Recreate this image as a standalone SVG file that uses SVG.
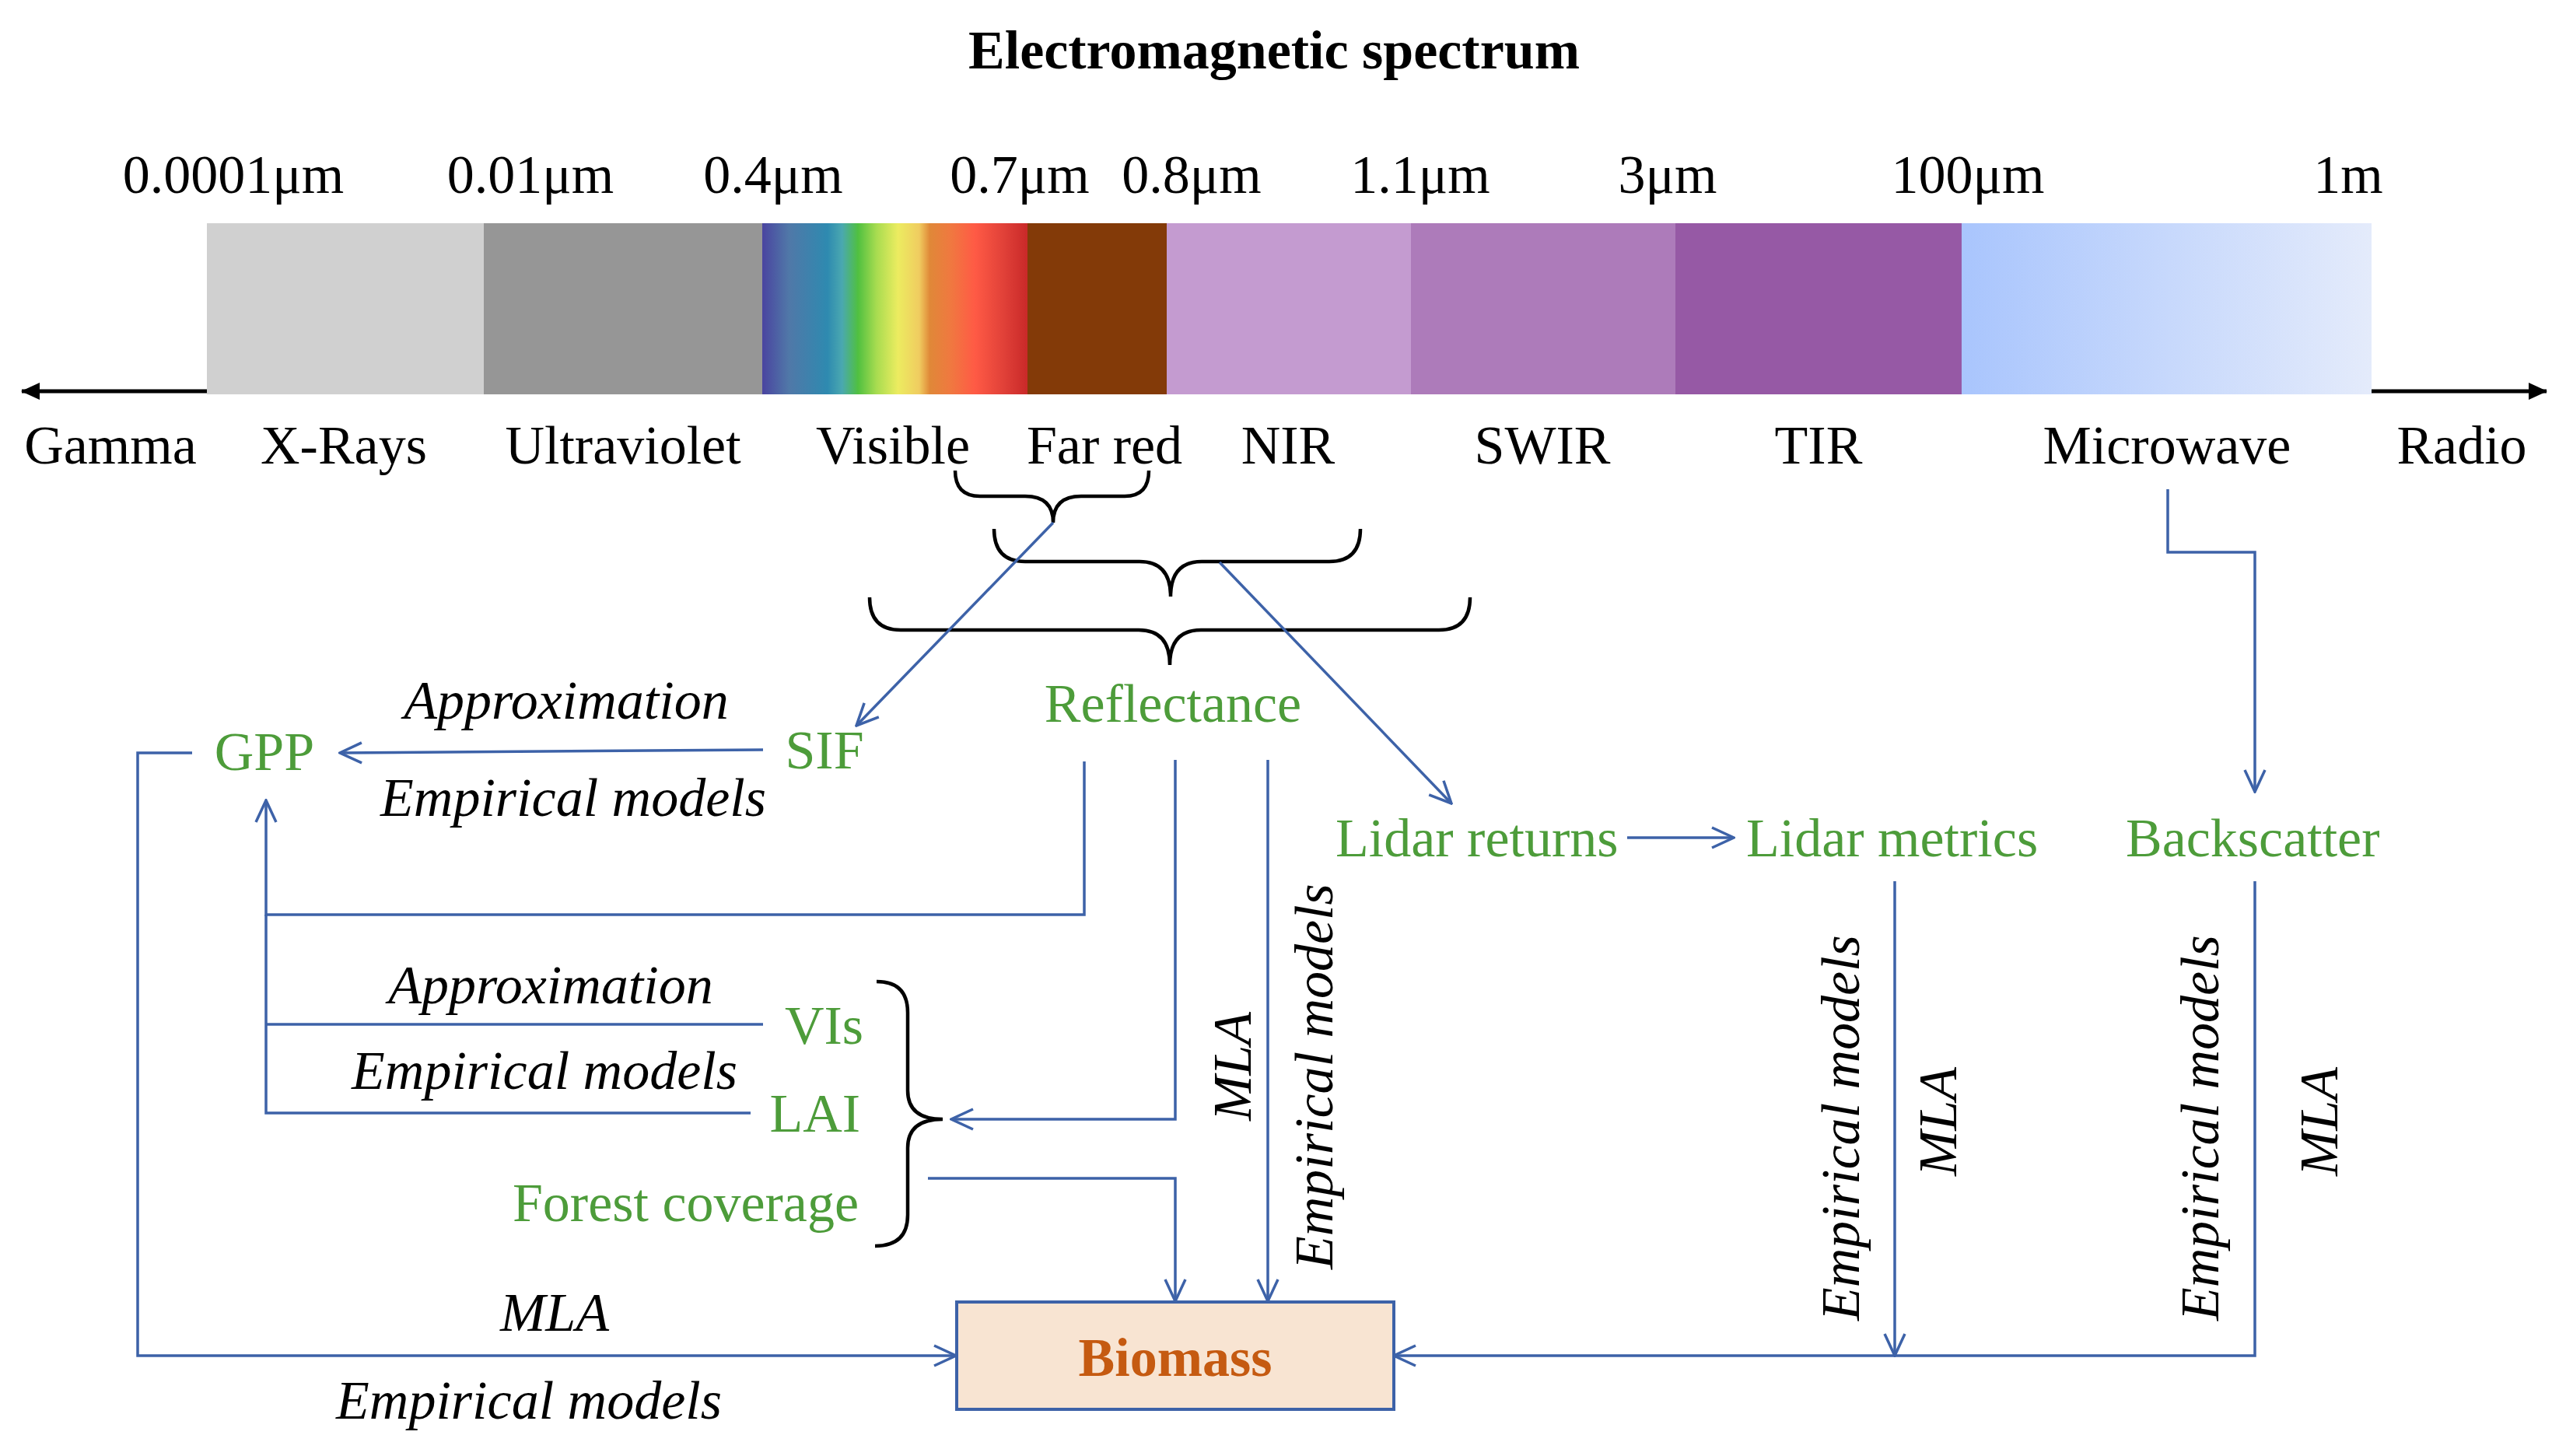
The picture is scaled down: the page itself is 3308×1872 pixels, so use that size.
<svg xmlns="http://www.w3.org/2000/svg" width="3308" height="1872" viewBox="0 0 3308 1872">
<style>
text{font-family:"Liberation Serif","Times New Roman",serif;font-size:70px;fill:#000}
.b{font-weight:bold}
.it{font-style:italic}
.g{fill:#4d9c3a}
.mid{text-anchor:middle}
.end{text-anchor:end}
.c{fill:none;stroke:#3d62a8;stroke-width:3.5}
.ca{fill:none;stroke:#3d62a8;stroke-width:3.5;marker-end:url(#ah)}
.br{fill:none;stroke:#000;stroke-width:4.5}
</style>
<defs>
<marker id="ah" viewBox="0 0 32 30" refX="30" refY="15" markerWidth="32" markerHeight="30" markerUnits="userSpaceOnUse" orient="auto">
<path d="M2,2 L30,15 L2,28" fill="none" stroke="#3d62a8" stroke-width="3.5"/>
</marker>
<marker id="bh" viewBox="0 0 24 22" refX="23" refY="11" markerWidth="24" markerHeight="22" markerUnits="userSpaceOnUse" orient="auto">
<path d="M0,0 L24,11 L0,22 Z" fill="#000"/>
</marker>
<linearGradient id="vis" x1="0" y1="0" x2="1" y2="0">
<stop offset="0" stop-color="#4a44a0"/>
<stop offset="0.10" stop-color="#5078a8"/>
<stop offset="0.245" stop-color="#2e8ab0"/>
<stop offset="0.30" stop-color="#4aa8b0"/>
<stop offset="0.36" stop-color="#50c040"/>
<stop offset="0.43" stop-color="#a8dc50"/>
<stop offset="0.51" stop-color="#ecec60"/>
<stop offset="0.59" stop-color="#f0cc60"/>
<stop offset="0.63" stop-color="#e08838"/>
<stop offset="0.71" stop-color="#f07840"/>
<stop offset="0.80" stop-color="#ff5a45"/>
<stop offset="0.91" stop-color="#e04038"/>
<stop offset="1" stop-color="#c82828"/>
</linearGradient>
<linearGradient id="mw" x1="0" y1="0" x2="1" y2="0">
<stop offset="0" stop-color="#a9c5fd"/>
<stop offset="1" stop-color="#e4ebfb"/>
</linearGradient>
</defs>

<g id="title"><text class="b mid" x="1638" y="88">Electromagnetic spectrum</text></g>

<g id="spectrum">
<rect x="266" y="287" width="357" height="220" fill="#d0d0d0"/>
<rect x="622" y="287" width="359" height="220" fill="#969696"/>
<rect x="980" y="287" width="342" height="220" fill="url(#vis)"/>
<rect x="1321" y="287" width="180" height="220" fill="#833a08"/>
<rect x="1500" y="287" width="315" height="220" fill="#c49bd0"/>
<rect x="1814" y="287" width="341" height="220" fill="#ad7bba"/>
<rect x="2154" y="287" width="369" height="220" fill="#9659a5"/>
<rect x="2522" y="287" width="527" height="220" fill="url(#mw)"/>
<line x1="266" y1="503" x2="28" y2="503" stroke="#000" stroke-width="5" marker-end="url(#bh)"/>
<line x1="3049" y1="503" x2="3274" y2="503" stroke="#000" stroke-width="5" marker-end="url(#bh)"/>
</g>

<g id="wavelengths">
<text class="mid" x="300" y="248">0.0001μm</text>
<text class="mid" x="682" y="248">0.01μm</text>
<text class="mid" x="994" y="248">0.4μm</text>
<text class="mid" x="1311" y="248">0.7μm</text>
<text class="mid" x="1532" y="248">0.8μm</text>
<text class="mid" x="1826" y="248">1.1μm</text>
<text class="mid" x="2144" y="248">3μm</text>
<text class="mid" x="2530" y="248">100μm</text>
<text class="mid" x="3019" y="248">1m</text>
</g>

<g id="bands">
<text class="mid" x="142" y="596">Gamma</text>
<text class="mid" x="442" y="596">X-Rays</text>
<text class="mid" x="801" y="596">Ultraviolet</text>
<text class="mid" x="1148" y="596">Visible</text>
<text class="mid" x="1420" y="596">Far red</text>
<text class="mid" x="1656" y="596">NIR</text>
<text class="mid" x="1983" y="596">SWIR</text>
<text class="mid" x="2338" y="596">TIR</text>
<text class="mid" x="2786" y="596">Microwave</text>
<text class="mid" x="3165" y="596">Radio</text>
</g>

<g id="braces">
<path class="br" d="M1228,605 Q1228,638 1260,638 L1318,638 Q1354,638 1354,672 Q1354,638 1390,638 L1446,638 Q1477,638 1477,605"/>
<path class="br" d="M1278,680 Q1278,722 1318,722 L1465,722 Q1505,722 1505,767 Q1505,722 1545,722 L1709,722 Q1749,722 1749,680"/>
<path class="br" d="M1118,768 Q1118,810 1158,810 L1464,810 Q1504,810 1504,855 Q1504,810 1544,810 L1850,810 Q1890,810 1890,768"/>
<path class="br" d="M1127,1262 Q1167,1262 1167,1302 L1167,1402 Q1167,1439 1212,1439 Q1167,1439 1167,1476 L1167,1562 Q1167,1602 1125,1602"/>
</g>

<g id="connectors">
<path class="ca" d="M1354,672 L1101,933"/>
<path class="ca" d="M1568,723 L1866,1033"/>
<path class="ca" d="M981,964 L437,968"/>
<path class="ca" d="M247,968 L177,968 L177,1743 L1229,1743"/>
<path class="ca" d="M1394,979 L1394,1176 L342,1176 L342,1029"/>
<path class="c" d="M342,1176 L342,1431 L965,1431"/>
<path class="c" d="M342,1317 L981,1317"/>
<path class="ca" d="M1511,977 L1511,1439 L1223,1439"/>
<path class="ca" d="M1630,977 L1630,1673"/>
<path class="ca" d="M1193,1515 L1511,1515 L1511,1673"/>
<path class="ca" d="M2092,1077 L2229,1077"/>
<path class="ca" d="M2436,1133 L2436,1743"/>
<path class="ca" d="M2899,1133 L2899,1743 L1792,1743"/>
<path class="ca" d="M2787,629 L2787,710 L2899,710 L2899,1018"/>
</g>

<g id="node-reflectance"><text class="g mid" x="1508" y="928">Reflectance</text></g>
<g id="node-sif"><text class="g mid" x="1060" y="988">SIF</text></g>
<g id="node-gpp"><text class="g mid" x="340" y="990">GPP</text></g>
<g id="node-lidar-returns"><text class="g" x="1717" y="1101">Lidar returns</text></g>
<g id="node-lidar-metrics"><text class="g" x="2245" y="1101">Lidar metrics</text></g>
<g id="node-backscatter"><text class="g" x="2733" y="1101">Backscatter</text></g>
<g id="node-vis"><text class="g end" x="1110" y="1342">VIs</text></g>
<g id="node-lai"><text class="g end" x="1106" y="1455">LAI</text></g>
<g id="node-forest"><text class="g end" x="1104" y="1570">Forest coverage</text></g>
<g id="node-biomass">
<rect x="1230" y="1674" width="562" height="138" fill="#f8e4d2" stroke="#3d62a8" stroke-width="4"/>
<text class="b mid" x="1511" y="1769" style="fill:#c55a11">Biomass</text>
</g>

<g id="labels">
<text class="it mid" x="728" y="924">Approximation</text>
<text class="it mid" x="737" y="1049">Empirical models</text>
<text class="it mid" x="708" y="1290">Approximation</text>
<text class="it mid" x="700" y="1400">Empirical models</text>
<text class="it mid" x="713" y="1711">MLA</text>
<text class="it mid" x="680" y="1824">Empirical models</text>
<text class="it" transform="translate(1608,1441) rotate(-90)">MLA</text>
<text class="it" transform="translate(1713,1632) rotate(-90)">Empirical models</text>
<text class="it" transform="translate(2390,1698) rotate(-90)">Empirical models</text>
<text class="it" transform="translate(2515,1512) rotate(-90)">MLA</text>
<text class="it" transform="translate(2852,1698) rotate(-90)">Empirical models</text>
<text class="it" transform="translate(3005,1512) rotate(-90)">MLA</text>
</g>
</svg>
